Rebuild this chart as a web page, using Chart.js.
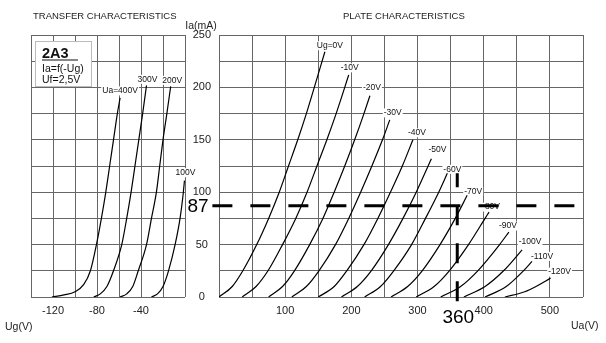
<!DOCTYPE html>
<html>
<head>
<meta charset="utf-8">
<script src="https://cdn.jsdelivr.net/npm/chart.js@4.4.1/dist/chart.umd.min.js"></script>
<style>
  html, body { margin: 0; padding: 0; background: #fff; }
  #wrap { position: relative; width: 606px; height: 343px; }
  #wrap canvas { position: absolute; left: 0; top: 0; }
</style>
</head>
<body>
<div id="wrap">
  <canvas id="transfer" width="606" height="343"></canvas>
  <canvas id="plate" width="606" height="343"></canvas>
</div>
<script>
// 2A3 triode: transfer curves Ia = f(Ug) for several plate voltages
const transferUa = [400, 300, 200, 100];
const transferUg = [
  [-121, -110, -100, -92, -86, -80.5, -76, -72, -68.5, -65, -61.5, -59],
  [-83, -77, -71, -65, -57.5, -53, -49, -45.5, -42, -38.5, -35],
  [-59, -53, -47.5, -42.5, -35, -30.5, -26, -23, -20, -16.5, -13],
  [-30.5, -25, -20, -15, -9, -4.5, -1.5, -0.5]
];
const transferIa = [
  [0, 2, 5, 12, 25, 50, 75, 100, 125, 150, 175, 190],
  [0, 3, 10, 25, 50, 75, 100, 125, 150, 175, 202],
  [0, 3, 10, 25, 50, 75, 100, 125, 150, 175, 201],
  [0, 3, 10, 25, 50, 75, 100, 111]
];

// plate curves Ia = f(Ua) for each grid voltage
const plateUg = [0, -10, -20, -30, -40, -50, -60, -70, -80, -90, -100, -110, -120];
const plateUa = [
  [0, 20, 36, 57, 75, 91, 105, 119, 132, 144, 160],
  [35, 56, 74, 96, 116, 133, 148, 163, 177, 190, 196],
  [75, 96, 114, 137, 157, 174, 190, 205, 219, 228],
  [110, 132, 151, 176, 196, 214, 231, 247, 258],
  [150, 174, 193, 219, 240, 259, 277, 293],
  [185, 209, 230, 256, 278, 298, 316, 321],
  [220, 244, 264, 291, 312, 332, 345],
  [260, 285, 307, 334, 357, 375],
  [298, 325, 348, 377, 402, 408],
  [335, 365, 391, 424, 438],
  [370, 402, 430, 458],
  [402, 434, 460, 473],
  [432, 462, 479, 501]
];
const plateIa = [
  [0, 10, 25, 50, 75, 100, 125, 150, 175, 200, 234],
  [0, 10, 25, 50, 75, 100, 125, 150, 175, 200, 212],
  [0, 10, 25, 50, 75, 100, 125, 150, 175, 192],
  [0, 10, 25, 50, 75, 100, 125, 150, 169],
  [0, 10, 25, 50, 75, 100, 125, 150],
  [0, 10, 25, 50, 75, 100, 125, 132],
  [0, 10, 25, 50, 75, 100, 118],
  [0, 10, 25, 50, 75, 97],
  [0, 10, 25, 50, 75, 81],
  [0, 10, 25, 50, 62],
  [0, 10, 25, 45],
  [0, 10, 25, 34],
  [0, 5, 10, 18]
];

// operating point marked on the plate curves
const pointUa = 360;
const pointIa = 87;

// where the curve names sit relative to the curve ends
const transferTagShift = [[0, -7], [1, -6], [1.5, -6], [1, -8]];
const plateTagShift = [[5, -6], [1, -7], [2, -8], [3, -7], [4, -7], [6, -9], [5, -4],
                       [6, -4], [2, -5], [-1, -6], [8, -8], [10, -5], [9, -6]];

const FONT = "'Liberation Sans', Arial, Helvetica, sans-serif";
Chart.defaults.font.family = FONT;
Chart.defaults.color = '#222';

const GRID = '#666';

function tag(ctx, text, x, y) {
  ctx.font = '8.5px ' + FONT;
  const w = ctx.measureText(text).width;
  ctx.fillStyle = '#fff';
  ctx.fillRect(x - w / 2 - 1, y - 4.5, w + 2, 9);
  ctx.fillStyle = '#111';
  ctx.textAlign = 'center';
  ctx.textBaseline = 'middle';
  ctx.fillText(text, x, y);
}

const curveTags = {
  id: 'curveTags',
  beforeDatasetsDraw(chart) {
    const ctx = chart.ctx;
    ctx.save();
    chart.data.datasets.forEach((ds, i) => {
      if (!ds.tag) return;
      const pts = chart.getDatasetMeta(i).data;
      const end = pts[pts.length - 1];
      tag(ctx, ds.tag, end.x + ds.shift[0], end.y + ds.shift[1]);
    });
    ctx.restore();
  }
};

function text(ctx, str, x, y, size, align, weight) {
  ctx.font = (weight || '') + ' ' + size + 'px ' + FONT;
  ctx.textAlign = align || 'left';
  ctx.textBaseline = 'alphabetic';
  ctx.fillText(str, x, y);
}

function curve(xs, ys) {
  return xs.map((v, j) => ({ x: v, y: ys[j] }));
}

const baseLine = {
  borderColor: '#000',
  borderWidth: 1.2,
  pointRadius: 0,
  fill: false,
  cubicInterpolationMode: 'monotone'
};

function gridScale(min, max, step, extra) {
  return Object.assign({
    type: 'linear',
    min: min,
    max: max,
    grid: { color: GRID, lineWidth: 1, drawTicks: false },
    border: { display: false },
    ticks: { stepSize: step, autoSkip: false, maxRotation: 0, font: { size: 11 }, color: '#222' }
  }, extra);
}

// ---- transfer characteristics ----
const transferNotes = {
  id: 'transferNotes',
  beforeDatasetsDraw(chart) {
    const ctx = chart.ctx;
    ctx.save();
    ctx.fillStyle = '#222';
    text(ctx, 'TRANSFER CHARACTERISTICS', 33, 18.5, 9.5);
    text(ctx, 'Ug(V)', 5, 330, 10.5);

    ctx.fillStyle = '#fff';
    ctx.fillRect(35.5, 41.5, 56, 45);
    ctx.strokeStyle = '#bbb';
    ctx.lineWidth = 1;
    ctx.strokeRect(35.5, 41.5, 56, 45);

    ctx.fillStyle = '#111';
    text(ctx, '2A3', 42, 57.5, 14.5, 'left', 'bold');
    ctx.strokeStyle = '#111';
    ctx.beginPath();
    ctx.moveTo(42, 60);
    ctx.lineTo(78, 60);
    ctx.stroke();
    text(ctx, 'Ia=f(-Ug)', 42, 71.5, 10.5);
    text(ctx, 'Uf=2,5V', 42, 83, 10.5);
    ctx.restore();
  }
};

new Chart(document.getElementById('transfer'), {
  type: 'line',
  data: {
    datasets: transferUa.map((ua, i) => Object.assign({}, baseLine, {
      label: ua + 'V',
      tag: (i === 0 ? 'Ua=' : '') + ua + 'V',
      shift: transferTagShift[i],
      data: curve(transferUg[i], transferIa[i])
    }))
  },
  options: {
    responsive: false,
    animation: false,
    events: [],
    layout: { padding: { left: 31, right: 421, top: 35, bottom: 0 } },
    plugins: { legend: { display: false }, tooltip: { enabled: false } },
    scales: {
      x: gridScale(-140, 0, 20, {
        afterFit: s => { s.height = 46; }
      }),
      y: gridScale(0, 250, 25, {
        afterFit: s => { s.width = 0; }
      })
    }
  },
  plugins: [curveTags, transferNotes]
});

// ---- plate characteristics ----
const plateNotes = {
  id: 'plateNotes',
  beforeDatasetsDraw(chart) {
    const ctx = chart.ctx;
    ctx.save();
    ctx.fillStyle = '#222';
    text(ctx, 'PLATE CHARACTERISTICS', 343, 18.5, 9.5);
    text(ctx, 'Ia(mA)', 201, 29, 10.5, 'center');
    text(ctx, 'Ua(V)', 571, 329, 10.5);
    ctx.restore();
  },
  afterDraw(chart) {
    const ctx = chart.ctx;
    const xs = chart.scales.x, ys = chart.scales.y;
    ctx.save();
    ctx.fillStyle = '#000';
    ctx.font = '19px ' + FONT;
    ctx.textAlign = 'center';
    ctx.textBaseline = 'middle';
    ctx.fillText(String(pointIa), xs.left - 21, ys.getPixelForValue(pointIa) + 1);
    ctx.fillText(String(pointUa), xs.getPixelForValue(pointUa) + 1, ys.bottom + 21);
    ctx.restore();
  }
};

const guide = {
  borderColor: '#000',
  borderWidth: 3,
  borderDash: [20, 18],
  pointRadius: 0,
  tension: 0,
  fill: false,
  clip: false
};

new Chart(document.getElementById('plate'), {
  type: 'line',
  data: {
    datasets: [
      Object.assign({}, guide, { label: 'Ia ' + pointIa, data: [{ x: -10, y: pointIa }, { x: 540, y: pointIa }] }),
      Object.assign({}, guide, { label: 'Ua ' + pointUa, data: [{ x: pointUa, y: -4 }, { x: pointUa, y: 118 }] })
    ].concat(plateUg.map((ug, i) => Object.assign({}, baseLine, {
      label: ug + 'V',
      tag: (i === 0 ? 'Ug=' : '') + ug + 'V',
      shift: plateTagShift[i],
      data: curve(plateUa[i], plateIa[i])
    })))
  },
  options: {
    responsive: false,
    animation: false,
    events: [],
    layout: { padding: { left: 180, right: 23, top: 35, bottom: 0 } },
    plugins: { legend: { display: false }, tooltip: { enabled: false } },
    scales: {
      x: gridScale(0, 550, 50, {
        afterFit: s => { s.height = 46; }
      }),
      y: gridScale(0, 250, 25, {
        afterFit: s => { s.width = 39; }
      })
    }
  },
  plugins: [curveTags, plateNotes]
});

// tick labels: only every second grid line carries a number
const tc = Chart.getChart('transfer');
tc.options.scales.x.ticks.padding = 7;
tc.options.scales.x.ticks.callback = v => (v % 40 === 0 && v !== 0) ? v : '';
tc.options.scales.y.ticks.display = false;
tc.update();

const pc = Chart.getChart('plate');
pc.options.scales.x.ticks.padding = 7;
pc.options.scales.x.ticks.callback = v => (v % 100 === 0 && v > 0 && v < 550) ? v : '';
pc.options.scales.y.ticks.padding = 8;
pc.options.scales.y.ticks.crossAlign = 'center';
pc.options.scales.y.ticks.callback = v => (v % 50 === 0) ? v : '';
pc.update();
</script>
</body>
</html>
